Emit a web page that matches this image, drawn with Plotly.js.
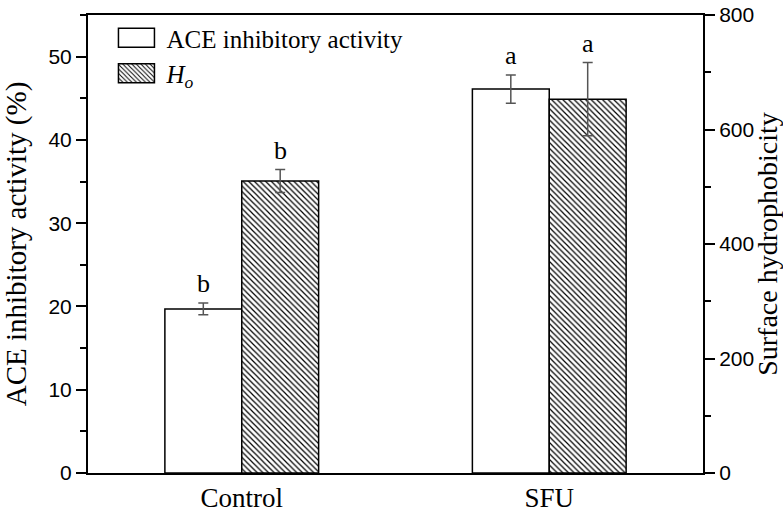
<!DOCTYPE html>
<html>
<head>
<meta charset="utf-8">
<script src="https://cdn.plot.ly/plotly-3.0.1.min.js"></script>
<style>html,body{margin:0;padding:0;background:#fff;}#chart{width:783px;height:520px;}</style>
</head>
<body>
<div id="chart"></div>
<script>
var categories = ['Control', 'SFU'];
var aceValues = [19.7, 46.1];
var aceErrors = [0.7, 1.7];
var hoValues = [510, 653];
var hoErrors = [20, 64];
var aceLetters = ['b', 'a'];
var hoLetters = ['b', 'a'];

var serif = 'Liberation Serif, Times New Roman, serif';
var sans = 'Liberation Sans, Arial, sans-serif';

var traceAce = {
  type: 'bar', name: 'ACE inhibitory activity',
  x: categories, y: aceValues, yaxis: 'y', offsetgroup: '1',
  marker: {color: '#ffffff', line: {color: '#000000', width: 1.5}},
  error_y: {type: 'data', array: aceErrors, visible: true, color: '#555555', thickness: 1.5, width: 5}
};
var traceHo = {
  type: 'bar', name: '<i>H<sub>o</sub></i>',
  x: categories, y: hoValues, yaxis: 'y2', offsetgroup: '2',
  marker: {color: '#ffffff', line: {color: '#000000', width: 1.5},
    pattern: {shape: '\\', fgcolor: '#000000', bgcolor: '#ffffff', size: 4, solidity: 0.3}},
  error_y: {type: 'data', array: hoErrors, visible: true, color: '#555555', thickness: 1.5, width: 5}
};

var bargap = 0.5;
var barOffset = (1 - bargap) / 4;
var annotations = [];
for (var i = 0; i < categories.length; i++) {
  annotations.push({x: i - barOffset, y: aceValues[i] + aceErrors[i], xref: 'x', yref: 'y',
    text: aceLetters[i], showarrow: false, yanchor: 'bottom', yshift: 3,
    font: {family: serif, size: 26, color: '#000'}});
  annotations.push({x: i + barOffset, y: hoValues[i] + hoErrors[i], xref: 'x', yref: 'y2',
    text: hoLetters[i], showarrow: false, yanchor: 'bottom', yshift: 3,
    font: {family: serif, size: 26, color: '#000'}});
}

var layout = {
  width: 783, height: 520,
  margin: {l: 88, r: 80, t: 15, b: 47, autoexpand: false},
  paper_bgcolor: '#ffffff', plot_bgcolor: '#ffffff',
  barmode: 'group', bargap: bargap, bargroupgap: 0,
  showlegend: true,
  legend: {x: 0.03, y: 1.0, xanchor: 'left', yanchor: 'top', bgcolor: 'rgba(0,0,0,0)',
    font: {family: serif, size: 25, color: '#000'}, itemwidth: 50, tracegroupgap: 0},
  xaxis: {type: 'category', range: [-0.5, 1.5], showline: true, linecolor: '#000', linewidth: 2,
    mirror: true, ticks: '', showgrid: false, zeroline: false,
    tickfont: {family: serif, size: 27, color: '#000'}},
  yaxis: {range: [0, 55], dtick: 10, showline: true, linecolor: '#000', linewidth: 2,
    ticks: 'outside', ticklen: 10, tickwidth: 2, tickcolor: '#000', showgrid: false, zeroline: false,
    minor: {dtick: 5, ticks: 'outside', ticklen: 6, tickwidth: 2, tickcolor: '#000', showgrid: false},
    tickfont: {family: sans, size: 21, color: '#000'},
    title: {text: 'ACE inhibitory activity (%)', font: {family: serif, size: 29, color: '#000'}, standoff: 16}},
  yaxis2: {range: [0, 800], dtick: 200, overlaying: 'y', side: 'right', showline: true, linecolor: '#000', linewidth: 2,
    ticks: 'outside', ticklen: 10, tickwidth: 2, tickcolor: '#000', showgrid: false, zeroline: false,
    minor: {dtick: 100, ticks: 'outside', ticklen: 6, tickwidth: 2, tickcolor: '#000', showgrid: false},
    tickfont: {family: sans, size: 21, color: '#000'},
    title: {text: 'Surface hydrophobicity', font: {family: serif, size: 28, color: '#000'}, standoff: 6}},
  annotations: annotations
};

Plotly.newPlot('chart', [traceAce, traceHo], layout, {staticPlot: true}).then(function(gd) {
  var paths = gd.querySelectorAll('.legend .legendpoints path');
  paths.forEach(function(p) { p.setAttribute('d', 'M18,9.5H-18V-9.5H18Z'); });
});
</script>
</body>
</html>
